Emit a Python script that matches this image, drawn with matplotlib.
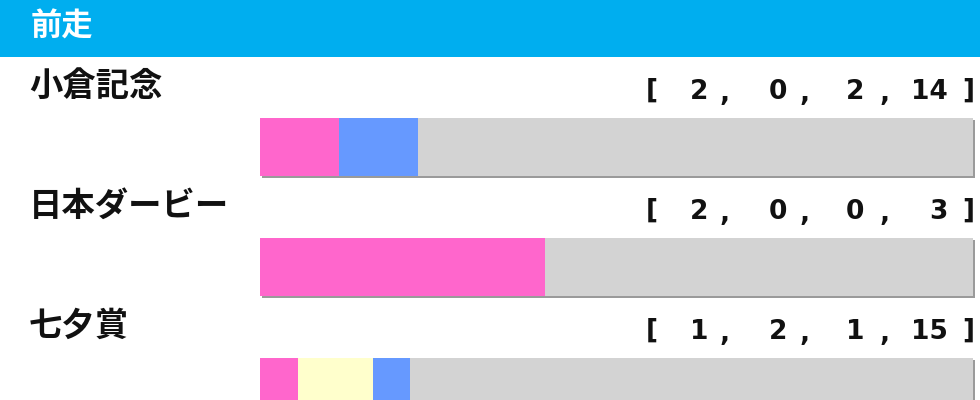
"""前走 breakdown bars: finish counts [1st, 2nd, 3rd, other] per previous race."""
import numpy as np
import matplotlib
matplotlib.use("Agg")
import matplotlib.pyplot as plt
import matplotlib.patheffects as pe

plt.rcParams['font.family'] = ['Noto Sans CJK JP', 'DejaVu Sans']

TITLE = "前走"
RACES = ["小倉記念", "日本ダービー", "七夕賞"]
FIRST = [2, 2, 1]
SECOND = [0, 0, 2]
THIRD = [2, 0, 1]
OTHER = [14, 3, 15]

COLS = ["#ff66cc", "#ffffcc", "#6699ff", "#d3d3d3"]
HEADER = "#00aeef"

W, H = 980, 400
fig = plt.figure(figsize=(W / 100, H / 100), dpi=100)
fig.patch.set_facecolor("white")

# full-figure pixel axes for header and text
ax = fig.add_axes([0, 0, 1, 1])
ax.set_xlim(0, W); ax.set_ylim(H, 0); ax.axis("off")
ax.add_patch(plt.Rectangle((0, 0), W, 57, color=HEADER, lw=0))
ax.text(31, 27, TITLE, color="white", fontsize=22.5, fontweight="bold", va="center", ha="left")

# bar axes: x runs 0..1 over the bar span, y in pixels
bx0, bx1 = 260, 973
bax = fig.add_axes([bx0 / W, 0, (bx1 - bx0) / W, 1])
bax.set_xlim(0, 1); bax.set_ylim(H, 0); bax.axis("off")

counts = np.array([FIRST, SECOND, THIRD, OTHER], float)
fracs = counts / counts.sum(axis=0)
lefts = np.vstack([np.zeros(len(RACES)), np.cumsum(fracs, axis=0)[:-1]])
ycen = 147 + 120 * np.arange(len(RACES))

# shadow behind each full bar
bax.barh(ycen, 1.0, height=58, color="#d3d3d3", lw=0, clip_on=False,
         path_effects=[pe.SimplePatchShadow(offset=(1.5, -1.5), shadow_rgbFace="#9a9a9a", alpha=1.0),
                       pe.Normal()])
for k in range(4):
    bax.barh(ycen, fracs[k], left=lefts[k], height=58, color=COLS[k], lw=0)

num_right = [708, 787, 864, 948]
comma_x = [725, 805, 885]
for i, race in enumerate(RACES):
    ly = 86 + 120 * i
    ax.text(29, ly, race, fontsize=24, fontweight="bold", va="center", ha="left", color="#111111")
    ny = 92 + 120 * i
    tk = dict(fontsize=19, fontweight="bold", va="center", color="#111111", family="DejaVu Sans")
    ax.text(652, ny - 1, "[", ha="center", **tk)
    ax.text(968, ny - 1, "]", ha="center", **tk)
    for j in range(4):
        ax.text(num_right[j], ny, "%d" % int(counts[j, i]), ha="right", **tk)
    for cx in comma_x:
        ax.text(cx, ny + 2, ",", ha="center", **tk)

fig.savefig("out.png", dpi=100, facecolor="white")
